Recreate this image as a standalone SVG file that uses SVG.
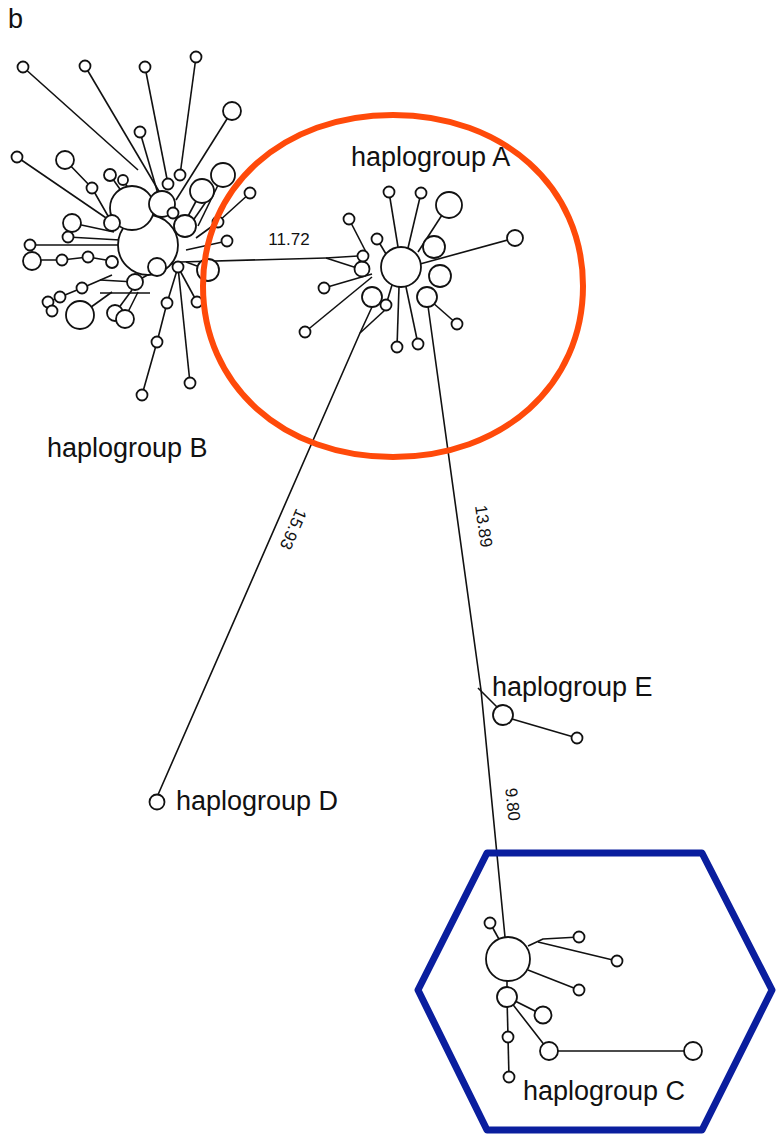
<svg xmlns="http://www.w3.org/2000/svg" width="779" height="1138" viewBox="0 0 779 1138">
<style>
.e{fill:none;stroke:#111;stroke-width:1.6;stroke-linejoin:round}
.n{fill:#fff;stroke:#111;stroke-width:1.8}
.lab{font-family:"Liberation Sans",Arial,sans-serif;font-size:27px;fill:#111}
.num{font-family:"Liberation Sans",Arial,sans-serif;font-size:17px;fill:#111}
</style>
<rect width="779" height="1138" fill="#fff"/>
<text class="lab" x="8" y="28" style="font-size:27px">b</text>
<g id="connectors">
<polyline class="e" points="180,262 326,258"/>
<polyline class="e" points="326,258 358,256"/>
<polyline class="e" points="326,258 357,268"/>
<polyline class="e" points="372,307 360,333 157,797"/>
<polyline class="e" points="385,310 360,333"/>
<polyline class="e" points="428,306 481,690 505,937"/>
<polyline class="e" points="478,688 498,708"/>
<polyline class="e" points="512,719 577,738"/>
<polyline class="e" points="23,67 138,170"/>
<polyline class="e" points="85,66 160,193"/>
<polyline class="e" points="145,67 168,184"/>
<polyline class="e" points="140,132 158,194"/>
<polyline class="e" points="196,57 180,175"/>
<polyline class="e" points="232,111 176,200"/>
<polyline class="e" points="17,157 112,222"/>
<polyline class="e" points="65,160 92,188 108,216"/>
<polyline class="e" points="110,175 122,192"/>
<polyline class="e" points="123,180 128,188"/>
<polyline class="e" points="250,193 218,222 196,238"/>
<polyline class="e" points="202,190 186,220"/>
<polyline class="e" points="210,196 192,222"/>
<polyline class="e" points="223,175 198,226"/>
<polyline class="e" points="30,245 120,245"/>
<polyline class="e" points="32,260 62,260 88,257 118,262"/>
<polyline class="e" points="68,237 120,240"/>
<polyline class="e" points="72,223 114,232"/>
<polyline class="e" points="48,302 60,297 82,288 112,275"/>
<polyline class="e" points="80,315 112,292"/>
<polyline class="e" points="100,293 150,293"/>
<polyline class="e" points="115,313 132,290"/>
<polyline class="e" points="125,318 138,292"/>
<polyline class="e" points="100,280 135,282"/>
<polyline class="e" points="178,267 167,303 157,342 142,395"/>
<polyline class="e" points="178,267 197,302"/>
<polyline class="e" points="178,267 190,383"/>
<polyline class="e" points="157,267 180,262"/>
<polyline class="e" points="208,270 186,262"/>
<polyline class="e" points="227,241 186,250"/>
<polyline class="e" points="135,282 160,268"/>
<polyline class="e" points="389,192 398,247"/>
<polyline class="e" points="421,193 408,248"/>
<polyline class="e" points="442,215 418,252"/>
<polyline class="e" points="515,238 420,264"/>
<polyline class="e" points="349,219 366,252"/>
<polyline class="e" points="377,239 386,254"/>
<polyline class="e" points="324,288 372,274"/>
<polyline class="e" points="305,332 372,277"/>
<polyline class="e" points="386,305 392,285"/>
<polyline class="e" points="457,324 432,302"/>
<polyline class="e" points="397,347 399,287"/>
<polyline class="e" points="418,344 406,287"/>
<polyline class="e" points="490,923 500,941"/>
<polyline class="e" points="528,946 543,939 579,937"/>
<polyline class="e" points="538,942 617,961"/>
<polyline class="e" points="528,970 579,990"/>
<polyline class="e" points="507,980 507,988"/>
<polyline class="e" points="507,997 543,1015"/>
<polyline class="e" points="507,997 509,1077"/>
<polyline class="e" points="507,997 549,1051 693,1051"/>
</g>
<g id="nodes-B">
<circle class="n" cx="148" cy="245" r="30"/>
<circle class="n" cx="132" cy="208" r="22"/>
<circle class="n" cx="162" cy="204" r="13"/>
<circle class="n" cx="185" cy="226" r="11"/>
<circle class="n" cx="202" cy="191" r="12"/>
<circle class="n" cx="223" cy="175" r="12"/>
<circle class="n" cx="208" cy="270" r="11"/>
<circle class="n" cx="232" cy="111" r="9"/>
<circle class="n" cx="65" cy="160" r="9"/>
<circle class="n" cx="72" cy="223" r="9"/>
<circle class="n" cx="112" cy="223" r="8"/>
<circle class="n" cx="32" cy="261" r="9"/>
<circle class="n" cx="157" cy="267" r="9"/>
<circle class="n" cx="135" cy="282" r="8"/>
<circle class="n" cx="112" cy="262" r="6"/>
<circle class="n" cx="110" cy="175" r="6"/>
<circle class="n" cx="123" cy="180" r="5"/>
<circle class="n" cx="80" cy="315" r="14"/>
<circle class="n" cx="115" cy="313" r="8"/>
<circle class="n" cx="125" cy="319" r="9"/>
<circle class="n" cx="23" cy="67" r="5.5"/>
<circle class="n" cx="85" cy="66" r="5.5"/>
<circle class="n" cx="145" cy="67" r="5.5"/>
<circle class="n" cx="196" cy="57" r="5.5"/>
<circle class="n" cx="140" cy="132" r="5.5"/>
<circle class="n" cx="17" cy="157" r="5.5"/>
<circle class="n" cx="92" cy="188" r="5.5"/>
<circle class="n" cx="180" cy="175" r="5.5"/>
<circle class="n" cx="168" cy="184" r="5.5"/>
<circle class="n" cx="173" cy="213" r="5.5"/>
<circle class="n" cx="250" cy="193" r="5.5"/>
<circle class="n" cx="218" cy="222" r="5.5"/>
<circle class="n" cx="227" cy="241" r="5.5"/>
<circle class="n" cx="68" cy="237" r="5.5"/>
<circle class="n" cx="30" cy="245" r="5.5"/>
<circle class="n" cx="62" cy="260" r="5.5"/>
<circle class="n" cx="88" cy="257" r="5.5"/>
<circle class="n" cx="82" cy="288" r="5.5"/>
<circle class="n" cx="60" cy="297" r="5.5"/>
<circle class="n" cx="48" cy="302" r="5.5"/>
<circle class="n" cx="52" cy="311" r="5.5"/>
<circle class="n" cx="178" cy="267" r="5.5"/>
<circle class="n" cx="167" cy="303" r="5.5"/>
<circle class="n" cx="197" cy="302" r="5.5"/>
<circle class="n" cx="157" cy="342" r="5.5"/>
<circle class="n" cx="142" cy="395" r="5.5"/>
<circle class="n" cx="190" cy="383" r="5.5"/>
</g>
<g id="nodes-A">
<circle class="n" cx="401" cy="267" r="20"/>
<circle class="n" cx="449" cy="205" r="13"/>
<circle class="n" cx="434" cy="247" r="11"/>
<circle class="n" cx="440" cy="276" r="11"/>
<circle class="n" cx="427" cy="297" r="10"/>
<circle class="n" cx="372" cy="297" r="10"/>
<circle class="n" cx="362" cy="269" r="7.5"/>
<circle class="n" cx="515" cy="238" r="8"/>
<circle class="n" cx="389" cy="192" r="5.5"/>
<circle class="n" cx="421" cy="193" r="5.5"/>
<circle class="n" cx="349" cy="219" r="5.5"/>
<circle class="n" cx="377" cy="239" r="5.5"/>
<circle class="n" cx="363" cy="256" r="5.5"/>
<circle class="n" cx="324" cy="288" r="5.5"/>
<circle class="n" cx="305" cy="332" r="5.5"/>
<circle class="n" cx="386" cy="305" r="5.5"/>
<circle class="n" cx="457" cy="324" r="5.5"/>
<circle class="n" cx="397" cy="347" r="5.5"/>
<circle class="n" cx="418" cy="344" r="5.5"/>
</g>
<g id="node-D"><circle class="n" cx="157" cy="802" r="7.5"/></g>
<g id="nodes-E">
<circle class="n" cx="503" cy="715" r="10"/>
<circle class="n" cx="577" cy="738" r="5.5"/>
</g>
<g id="nodes-C">
<circle class="n" cx="508" cy="959" r="22"/>
<circle class="n" cx="507" cy="997" r="10"/>
<circle class="n" cx="543" cy="1015" r="8.5"/>
<circle class="n" cx="549" cy="1051" r="9"/>
<circle class="n" cx="693" cy="1051" r="9"/>
<circle class="n" cx="490" cy="923" r="5.5"/>
<circle class="n" cx="579" cy="937" r="5.5"/>
<circle class="n" cx="617" cy="961" r="5.5"/>
<circle class="n" cx="579" cy="990" r="5.5"/>
<circle class="n" cx="508" cy="1037" r="5.5"/>
<circle class="n" cx="509" cy="1077" r="5.5"/>
</g>
<g id="labels">
<text class="lab" x="351" y="166">haplogroup A</text>
<text class="lab" x="47" y="457">haplogroup B</text>
<text class="lab" x="492" y="696">haplogroup E</text>
<text class="lab" x="176" y="810">haplogroup D</text>
<text class="lab" x="523" y="1100">haplogroup C</text>
<text class="num" x="289" y="245" text-anchor="middle">11.72</text>
<text class="num" text-anchor="middle" transform="translate(288,527) rotate(113.4)">15.93</text>
<text class="num" text-anchor="middle" transform="translate(478,527) rotate(82)">13.89</text>
<text class="num" text-anchor="middle" transform="translate(507,805) rotate(84)">9.80</text>
</g>
<g id="highlights">
<path d="M393,115 C503,115 583,186.8 583,286 C583,385.2 503,457 393,457 C283,457 203,385.2 203,286 C203,186.8 283,115 393,115 Z" fill="none" stroke="#FF4A0A" stroke-width="6"/>
<polygon points="487,853 702,853 772,990 702,1130 487,1130 418,990" fill="none" stroke="#0A1E9E" stroke-width="7" stroke-linejoin="round"/>
</g>
</svg>
